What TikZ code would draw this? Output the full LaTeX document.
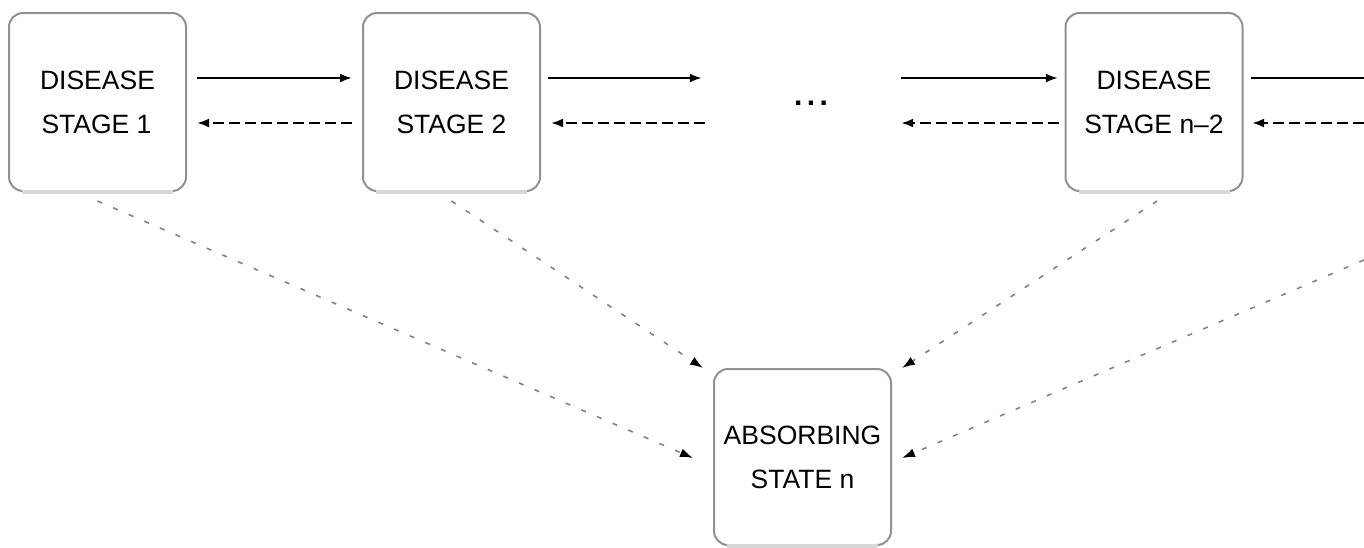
\documentclass[tikz,border=0pt]{standalone}
\usepackage{fontspec}
\setmainfont{Liberation Sans}
\usetikzlibrary{arrows.meta,calc}
\definecolor{boxline}{RGB}{145,145,145}
\definecolor{boxshade}{RGB}{215,215,215}
\definecolor{diagline}{RGB}{130,130,130}
\begin{document}
\begin{tikzpicture}[x=1pt,y=-1pt,
  box/.style={draw=boxline, line width=2pt, rounded corners=14pt,
    minimum width=177pt, minimum height=178pt, inner sep=0pt, align=center,
    font=\fontsize{26.5pt}{44pt}\selectfont},
  boxbottom/.style={draw=boxshade, line width=3.5pt},
  fwd/.style={line width=2.2pt, -{Latex[length=12pt,width=9pt]}},
  bwd/.style={line width=2.2pt, dash pattern=on 11pt off 5pt, -{Latex[length=12pt,width=9pt]}},
  plainline/.style={line width=2.2pt},
  diag/.style={line width=1.6pt, draw=diagline, dash pattern=on 5pt off 12pt,
    -{Latex[length=13pt,width=9pt,color=black]}}
]
\useasboundingbox (0,0) rectangle (1364,547);

\node[box] (b1) at (97.5,102) {DISEASE\\STAGE 1\hspace*{2pt}};
\node[box] (b2) at (451.5,102) {DISEASE\\STAGE 2};
\node[box] (bn2) at (1154,102) {DISEASE\\STAGE n--2};
\node[box, minimum height=176pt] (abs) at (802.5,457) {ABSORBING\\STATE n};
\node[font=\fontsize{30pt}{30pt}\bfseries, minimum width=180pt, inner sep=0pt]
  (dots) at (811,103) {.\hspace{4.5pt}.\hspace{4.5pt}.};

\foreach \n in {b1,b2,bn2,abs}
  \draw[boxbottom] ([xshift=14pt]\n.south west) -- ([xshift=-14pt]\n.south east);

\coordinate (top) at (0,78);
\coordinate (bot) at (0,123);
\coordinate (redge) at (1364,0);
\coordinate (r4) at (1364,260);

% horizontal transitions
\draw[fwd, shorten <=10pt, shorten >=10pt] (b1.east |- top) -- (b2.west |- top);
\draw[bwd, shorten <=10pt, shorten >=10pt] (b2.west |- bot) -- (b1.east |- bot);
\draw[fwd, shorten <=7pt, shorten >=19pt] (b2.east |- top) -- (dots.west |- top);
\draw[bwd, shorten <=16pt, shorten >=10pt] (dots.west |- bot) -- (b2.east |- bot);
\draw[fwd, shorten >=6.6pt] (dots.east |- top) -- (bn2.west |- top);
\draw[bwd, shorten <=5.6pt] (bn2.west |- bot) -- (dots.east |- bot);
\draw[plainline, shorten <=7.6pt] (bn2.east |- top) -- (redge |- top);
\draw[bwd, shorten >=8.6pt] (redge |- bot) -- (bn2.east |- bot);

% transitions to the absorbing state
\draw[diag] ($(b1.south)+(0,9)$) -- ($(abs.west)+(-20,1)$);
\draw[diag] ($(b2.south)+(0,9)$) -- ($(abs.north west)+(-10,0)$);
\draw[diag] ($(bn2.south)+(3,9)$) -- ($(abs.north east)+(10,0)$);
\draw[diag] (r4) -- ($(abs.east)+(10,1)$);
\end{tikzpicture}
\end{document}
